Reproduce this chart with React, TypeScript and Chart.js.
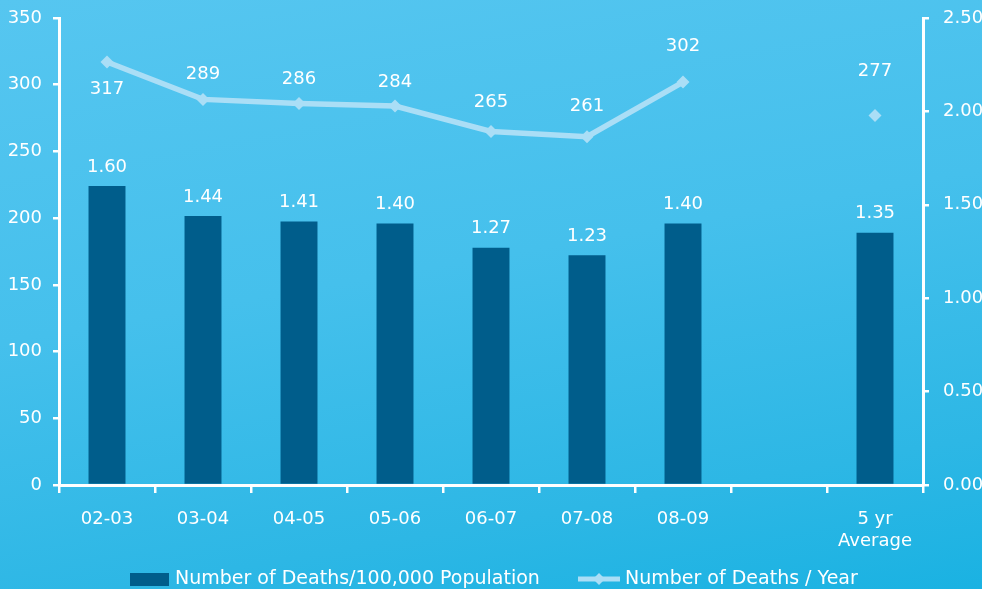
import { useEffect, useRef } from "react";
import { Chart, registerables } from "chart.js";

Chart.register(...registerables);

const categories: (string | string[])[] = ["02-03", "03-04", "04-05", "05-06", "06-07", "07-08", "08-09", "", ["5 yr", "Average"]];
const ratePer100k: (number | null)[] = [1.6, 1.44, 1.41, 1.4, 1.27, 1.23, 1.4, null, 1.35];
const deathsPerYear: (number | null)[] = [317, 289, 286, 284, 265, 261, 302, null, 277];
const barLegend = "Number of Deaths/100,000 Population";
const lineLegend = "Number of Deaths / Year";

// label offsets (style only)
const lineLabelDy = [27, -25, -24, -24, -29, -30, -36, 0, -44];

const FONT = '"DejaVu Sans", sans-serif';
const BAR_COLOR = "#005d8b";
const LINE_COLOR = "#aadef6";

export default function App() {
  const ref = useRef<HTMLCanvasElement | null>(null);

  useEffect(() => {
    if (!ref.current) return;

    const labelPlugin = {
      id: "valueLabels",
      afterDatasetsDraw(chart: any) {
        const ctx = chart.ctx;
        ctx.save();
        ctx.font = `18px ${FONT}`;
        ctx.fillStyle = "#ffffff";
        ctx.textAlign = "center";
        ctx.textBaseline = "middle";
        const bm = chart.getDatasetMeta(0);
        bm.data.forEach((el: any, i: number) => {
          const v = ratePer100k[i];
          if (v == null) return;
          ctx.fillText(v.toFixed(2), el.x, el.y - 19);
        });
        const lm = chart.getDatasetMeta(1);
        lm.data.forEach((el: any, i: number) => {
          const v = deathsPerYear[i];
          if (v == null) return;
          ctx.fillText(String(v), el.x, el.y + lineLabelDy[i]);
        });
        ctx.restore();
      },
    };

    const legendPlugin = {
      id: "customLegend",
      afterDraw(chart: any) {
        const ctx = chart.ctx;
        ctx.save();
        ctx.font = `19px ${FONT}`;
        ctx.fillStyle = "#ffffff";
        ctx.textAlign = "left";
        ctx.textBaseline = "middle";
        const y = 579;
        // bar legend
        ctx.fillStyle = BAR_COLOR;
        ctx.fillRect(130, 573, 39, 13);
        ctx.fillStyle = "#ffffff";
        ctx.fillText(barLegend, 175, y);
        // line legend
        ctx.strokeStyle = LINE_COLOR;
        ctx.lineWidth = 5;
        ctx.beginPath();
        ctx.moveTo(578, y);
        ctx.lineTo(620, y);
        ctx.stroke();
        ctx.fillStyle = LINE_COLOR;
        ctx.beginPath();
        ctx.moveTo(599 - 6, y);
        ctx.lineTo(599, y - 6);
        ctx.lineTo(599 + 6, y);
        ctx.lineTo(599, y + 6);
        ctx.closePath();
        ctx.fill();
        ctx.fillStyle = "#ffffff";
        ctx.fillText(lineLegend, 625, y);
        ctx.restore();
      },
    };

    const tickFont = { family: FONT, size: 18, lineHeight: 1.2 };

    const fitY = (s: any) => {
      s.width = 59;
      s.paddingTop = 0;
      s.paddingBottom = 0;
    };

    const chart = new Chart(ref.current, {
      type: "bar",
      data: {
        labels: categories,
        datasets: [
          {
            type: "bar",
            label: barLegend,
            data: ratePer100k,
            backgroundColor: BAR_COLOR,
            yAxisID: "y1",
            categoryPercentage: 1,
            barPercentage: 0.385,
            order: 2,
          },
          {
            type: "line",
            label: lineLegend,
            data: deathsPerYear,
            borderColor: LINE_COLOR,
            backgroundColor: LINE_COLOR,
            borderWidth: 5.5,
            pointStyle: "rectRot",
            pointRadius: 6.5,
            pointBorderWidth: 0,
            pointBackgroundColor: LINE_COLOR,
            spanGaps: false,
            tension: 0,
            yAxisID: "y",
            order: 1,
          },
        ] as any,
      },
      options: {
        animation: false,
        responsive: true,
        maintainAspectRatio: false,
        layout: { padding: { top: 18, left: 0, right: 0, bottom: 0 } },
        plugins: {
          legend: { display: false },
          tooltip: { enabled: false },
        },
        scales: {
          x: {
            offset: true,
            grid: {
              offset: true,
              drawOnChartArea: false,
              drawTicks: true,
              tickLength: 8,
              color: "#ffffff",
              lineWidth: 2.5,
            },
            border: { color: "#ffffff", width: 3 },
            ticks: {
              color: "#ffffff",
              font: tickFont,
              padding: 16,
              maxRotation: 0,
              autoSkip: false,
            },
            afterFit: (s: any) => {
              s.height = 104;
              s.paddingLeft = 0;
              s.paddingRight = 0;
            },
          },
          y: {
            position: "left",
            min: 0,
            max: 350,
            grid: {
              drawOnChartArea: false,
              drawTicks: true,
              tickLength: 6,
              color: "#ffffff",
              lineWidth: 2.5,
            },
            border: { color: "#ffffff", width: 3 },
            ticks: {
              stepSize: 50,
              color: "#ffffff",
              font: tickFont,
              padding: 11,
            },
            afterFit: fitY,
          },
          y1: {
            position: "right",
            min: 0,
            max: 2.5,
            grid: {
              drawOnChartArea: false,
              drawTicks: true,
              tickLength: 6,
              color: "#ffffff",
              lineWidth: 2.5,
            },
            border: { color: "#ffffff", width: 3 },
            ticks: {
              stepSize: 0.5,
              color: "#ffffff",
              font: tickFont,
              padding: 14,
              callback: (v: any) => Number(v).toFixed(2),
            },
            afterFit: fitY,
          },
        },
      } as any,
      plugins: [labelPlugin, legendPlugin],
    });

    return () => chart.destroy();
  }, []);

  return (
    <div
      style={{
        position: "absolute",
        left: 0,
        top: 0,
        width: 982,
        height: 589,
        background:
          "linear-gradient(170deg, #56c6f0 0%, #45c0ec 45%, #2db7e5 80%, #1ab2e2 100%)",
        overflow: "hidden",
      }}
    >
      <canvas ref={ref} style={{ width: 982, height: 589, display: "block" }} />
    </div>
  );
}
